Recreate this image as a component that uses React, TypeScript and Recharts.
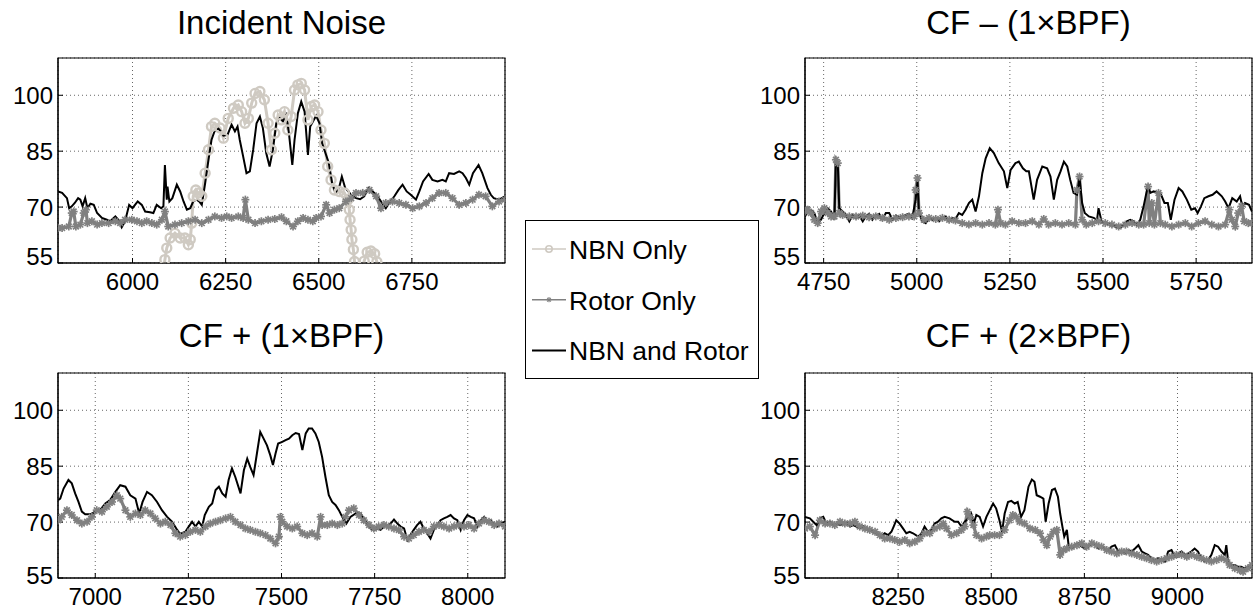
import React from 'react';
import { LineChart, Line, XAxis, YAxis, CartesianGrid, ReferenceArea } from 'recharts';

const FONT = '"Liberation Sans", Arial, Helvetica, sans-serif';

const titles = ['Incident Noise', 'CF \u2013 (1\u00d7BPF)', 'CF + (1\u00d7BPF)', 'CF + (2\u00d7BPF)'];
const legendLabels = ['NBN Only', 'Rotor Only', 'NBN and Rotor'];
const yDomain: [number, number] = [55, 110];
const yTicks = [55, 70, 85, 100];

const incidentDomain: [number, number] = [5800, 7000];
const incidentTicks = [6000, 6250, 6500, 6750];
const minus1Domain: [number, number] = [4700, 5900];
const minus1Ticks = [4750, 5000, 5250, 5500, 5750];
const plus1Domain: [number, number] = [6900, 8100];
const plus1Ticks = [7000, 7250, 7500, 7750, 8000];
const plus2Domain: [number, number] = [8000, 9200];
const plus2Ticks = [8250, 8500, 8750, 9000];

type P = [number, number];

const incidentNbn: P[] = [
  [6078, 50], [6087, 55.9], [6092, 59.0], [6101, 61.7], [6114, 63.0], [6128, 61.7], [6141, 61.7], [6150, 59.9],
  [6155, 61.3], [6159, 65.7], [6163, 72.9], [6170, 74.6], [6177, 73.8], [6186, 72.9], [6195, 79.1], [6204, 85.4],
  [6212, 91.6], [6221, 92.5], [6235, 91.2], [6244, 88.5], [6257, 93.8], [6271, 96.5], [6284, 97.4], [6293, 95.6],
  [6302, 92.5], [6311, 93.8], [6320, 97.9], [6329, 100.5], [6342, 101.0], [6354, 98.8], [6364, 92.5], [6373, 85.4],
  [6382, 89.8], [6391, 94.7], [6400, 93.4], [6408, 95.6], [6417, 90.7], [6426, 94.3], [6435, 101.4], [6444, 102.8],
  [6453, 103.2], [6462, 101.4], [6471, 93.4], [6480, 97.0], [6489, 97.4], [6498, 95.6], [6506, 90.7], [6515, 87.1],
  [6524, 80.9], [6533, 77.3], [6542, 74.6], [6555, 74.2], [6569, 73.8], [6578, 72.0], [6582, 69.3], [6584, 66.6],
  [6587, 63.9], [6589, 61.3], [6593, 58.6], [6596, 55.4], [6602, 50], [6614, 50], [6622, 55.5], [6630, 57.9],
  [6640, 58.2], [6650, 57.5], [6656, 55.3], [6666, 50],
];

const incidentRotor: P[] = [
  [5800, 64.4], [5811, 64.4], [5829, 64.8], [5837, 68.4], [5842, 68.8], [5848, 64.8], [5860, 65.3], [5869, 68.4],
  [5875, 69.3], [5879, 65.7], [5891, 66.2], [5905, 65.3], [5918, 65.7], [5936, 65.7], [5954, 66.2], [5967, 65.7],
  [5980, 66.6], [5998, 66.6], [6012, 66.2], [6025, 65.7], [6038, 66.2], [6052, 65.7], [6065, 65.3], [6079, 66.6],
  [6087, 68.8], [6096, 64.8], [6114, 65.3], [6132, 65.7], [6150, 66.2], [6168, 66.6], [6186, 65.7], [6204, 66.6],
  [6221, 67.5], [6239, 67.1], [6253, 67.5], [6266, 67.1], [6284, 67.5], [6297, 67.1], [6303, 72.0], [6311, 66.6],
  [6329, 65.7], [6346, 66.2], [6364, 66.6], [6382, 66.8], [6400, 67.3], [6413, 66.2], [6431, 64.8], [6444, 66.2],
  [6458, 67.1], [6471, 66.6], [6484, 66.2], [6493, 67.1], [6506, 67.5], [6520, 70.6], [6529, 68.4], [6542, 69.3],
  [6555, 69.7], [6573, 71.5], [6587, 72.4], [6600, 73.8], [6618, 73.8], [6636, 74.6], [6654, 72.9], [6667, 69.7],
  [6680, 71.1], [6698, 71.5], [6716, 71.1], [6734, 70.6], [6752, 69.7], [6770, 70.2], [6788, 71.1], [6805, 72.4],
  [6823, 73.8], [6841, 73.8], [6859, 72.4], [6877, 70.6], [6895, 71.1], [6913, 72.0], [6930, 73.3], [6948, 72.9],
  [6966, 70.2], [6984, 71.5], [7000, 72.0],
];

const incidentBoth: P[] = [
  [5800, 74.2], [5811, 73.8], [5824, 72.4], [5830, 69.7], [5837, 70.2], [5845, 71.1], [5854, 72.4], [5860, 72.0],
  [5866, 70.2], [5873, 72.4], [5879, 69.7], [5887, 70.9], [5896, 70.6], [5905, 68.4], [5918, 67.1], [5931, 66.6],
  [5940, 66.2], [5954, 67.5], [5962, 66.6], [5971, 64.6], [5980, 66.2], [5991, 70.6], [6000, 69.7], [6014, 71.5],
  [6025, 70.6], [6034, 68.8], [6047, 68.6], [6056, 68.4], [6065, 70.6], [6077, 69.7], [6083, 70.2], [6087, 81.3],
  [6092, 72.0], [6094, 75.5], [6099, 71.5], [6107, 72.4], [6119, 76.0], [6128, 74.2], [6137, 71.5], [6146, 69.3],
  [6155, 69.7], [6163, 71.5], [6172, 72.0], [6179, 71.5], [6186, 70.6], [6195, 76.4], [6204, 82.7], [6212, 88.0],
  [6220, 90.3], [6229, 91.2], [6237, 90.3], [6244, 89.2], [6255, 89.4], [6266, 92.1], [6275, 90.3], [6282, 91.6],
  [6288, 88.0], [6297, 83.6], [6306, 79.1], [6315, 79.6], [6324, 85.4], [6333, 92.5], [6342, 94.3], [6350, 91.2],
  [6359, 84.5], [6368, 80.9], [6377, 85.4], [6386, 92.5], [6395, 94.0], [6404, 93.0], [6413, 94.7], [6420, 89.8],
  [6429, 81.3], [6435, 88.0], [6444, 95.2], [6453, 98.3], [6462, 95.6], [6471, 84.0], [6477, 91.6], [6484, 92.9],
  [6493, 94.5], [6502, 92.5], [6509, 87.1], [6518, 84.5], [6527, 81.8], [6536, 76.4], [6545, 73.8], [6553, 74.6],
  [6562, 78.2], [6571, 75.1], [6580, 74.2], [6589, 72.9], [6600, 72.4], [6611, 72.1], [6622, 72.9], [6634, 75.1],
  [6645, 74.2], [6658, 72.9], [6670, 71.1], [6680, 69.7], [6689, 71.1], [6703, 72.9], [6714, 74.6], [6725, 76.0],
  [6736, 74.2], [6747, 73.3], [6761, 72.0], [6770, 74.2], [6780, 76.9], [6795, 78.9], [6805, 77.3], [6819, 76.9],
  [6832, 77.3], [6841, 76.9], [6850, 79.1], [6863, 78.9], [6877, 79.6], [6886, 79.1], [6895, 77.8], [6904, 76.0],
  [6914, 79.1], [6929, 81.3], [6939, 79.1], [6953, 75.1], [6962, 73.3], [6970, 72.4], [6984, 72.0], [7000, 72.9],
];

const minus1Rotor: P[] = [
  [4700, 68.8], [4707, 69.3], [4716, 68.4], [4725, 66.6], [4734, 65.7], [4743, 68.8], [4752, 69.7], [4761, 68.4],
  [4770, 67.5], [4779, 67.5], [4783, 82.7], [4788, 81.8], [4792, 68.4], [4801, 67.9], [4819, 67.5], [4837, 67.5],
  [4855, 67.7], [4872, 67.3], [4890, 67.5], [4908, 67.1], [4926, 66.6], [4944, 67.1], [4962, 67.3], [4979, 67.5],
  [4993, 67.5], [4997, 74.6], [5002, 77.8], [5006, 68.4], [5019, 66.6], [5033, 67.1], [5051, 66.8], [5069, 67.1],
  [5087, 66.6], [5104, 66.4], [5122, 65.7], [5140, 65.3], [5158, 65.7], [5176, 65.3], [5194, 65.7], [5211, 65.3],
  [5218, 69.3], [5225, 65.7], [5238, 65.3], [5256, 66.2], [5274, 65.7], [5292, 65.7], [5310, 66.2], [5328, 65.3],
  [5341, 66.8], [5354, 65.3], [5372, 65.7], [5390, 65.3], [5408, 65.7], [5426, 65.3], [5430, 74.6], [5437, 78.2],
  [5444, 66.6], [5455, 65.3], [5471, 65.7], [5488, 66.2], [5506, 65.7], [5524, 65.3], [5542, 64.8], [5560, 65.3],
  [5578, 65.7], [5596, 65.3], [5609, 65.3], [5621, 75.5], [5624, 65.7], [5631, 71.1], [5638, 65.3], [5649, 73.8],
  [5654, 65.7], [5667, 65.3], [5685, 64.8], [5703, 65.3], [5721, 65.7], [5738, 64.8], [5756, 65.7], [5774, 66.2],
  [5792, 65.3], [5810, 64.8], [5828, 65.3], [5839, 69.3], [5846, 66.6], [5855, 64.8], [5863, 68.4], [5872, 70.2],
  [5879, 66.2], [5890, 65.7], [5900, 65.7],
];

const minus1Both: P[] = [
  [4700, 67.5], [4707, 68.8], [4716, 69.3], [4725, 68.4], [4734, 65.7], [4743, 66.6], [4752, 68.4], [4761, 69.7],
  [4770, 68.8], [4779, 66.6], [4783, 83.1], [4788, 81.8], [4792, 69.7], [4801, 68.8], [4810, 67.9], [4819, 66.2],
  [4828, 67.9], [4837, 67.1], [4846, 67.7], [4855, 66.2], [4863, 67.5], [4872, 68.2], [4881, 66.6], [4890, 67.7],
  [4899, 68.2], [4908, 66.6], [4917, 68.4], [4926, 68.4], [4935, 66.6], [4944, 67.7], [4953, 67.1], [4962, 67.5],
  [4970, 67.9], [4979, 68.2], [4988, 67.1], [4997, 72.0], [5002, 76.9], [5006, 68.4], [5015, 66.2], [5024, 65.7],
  [5033, 67.1], [5042, 66.6], [5051, 67.1], [5060, 66.2], [5069, 67.1], [5078, 67.5], [5087, 66.2], [5096, 67.1],
  [5104, 66.8], [5113, 68.4], [5122, 67.9], [5131, 69.3], [5140, 71.1], [5149, 72.0], [5158, 68.8], [5167, 72.9],
  [5176, 79.1], [5185, 83.1], [5196, 85.8], [5207, 84.5], [5220, 81.8], [5234, 79.6], [5243, 75.1], [5252, 80.0],
  [5265, 81.8], [5274, 82.2], [5285, 80.4], [5294, 79.6], [5301, 79.6], [5314, 72.0], [5323, 77.3], [5337, 80.9],
  [5350, 80.4], [5359, 78.2], [5368, 72.0], [5377, 77.3], [5386, 79.6], [5395, 82.2], [5404, 80.9], [5412, 77.3],
  [5421, 73.8], [5430, 73.3], [5437, 77.8], [5444, 71.1], [5451, 68.4], [5462, 67.5], [5475, 67.1], [5484, 66.6],
  [5488, 69.7], [5496, 66.2], [5506, 65.7], [5520, 65.3], [5533, 64.8], [5546, 64.4], [5555, 65.3], [5564, 66.2],
  [5573, 66.6], [5582, 66.2], [5591, 65.3], [5600, 66.6], [5609, 70.2], [5621, 76.0], [5627, 73.8], [5636, 74.2],
  [5647, 73.8], [5656, 73.3], [5665, 71.1], [5674, 71.1], [5682, 66.6], [5692, 72.0], [5703, 75.1], [5713, 74.2],
  [5725, 72.0], [5737, 69.3], [5747, 69.7], [5754, 68.4], [5763, 70.2], [5772, 72.4], [5783, 72.9], [5794, 73.3],
  [5805, 74.2], [5819, 72.9], [5828, 71.5], [5837, 69.7], [5847, 72.4], [5859, 71.5], [5868, 72.9], [5874, 70.2],
  [5881, 71.1], [5892, 70.6], [5900, 68.8],
];

const plus1Rotor: P[] = [
  [6900, 70.5], [6910, 71.4], [6924, 73.2], [6937, 71.9], [6951, 70.5], [6964, 69.6], [6978, 70.1], [6991, 71.4],
  [7004, 73.2], [7018, 72.8], [7031, 74.1], [7045, 75.4], [7058, 77.2], [7067, 76.3], [7081, 73.2], [7094, 71.4],
  [7108, 72.3], [7121, 71.9], [7134, 73.2], [7148, 72.3], [7161, 71.0], [7175, 69.6], [7188, 70.1], [7202, 69.2],
  [7215, 67.0], [7228, 66.1], [7242, 66.5], [7255, 67.4], [7269, 67.9], [7282, 67.4], [7296, 68.8], [7309, 69.6],
  [7323, 70.1], [7336, 70.5], [7350, 71.0], [7363, 71.4], [7376, 70.1], [7390, 69.2], [7403, 68.3], [7416, 67.9],
  [7430, 67.4], [7443, 67.0], [7457, 66.5], [7470, 65.6], [7484, 64.3], [7493, 66.1], [7497, 71.4], [7502, 70.1],
  [7515, 68.8], [7529, 68.3], [7542, 68.8], [7556, 67.0], [7569, 66.5], [7582, 67.0], [7596, 66.1], [7605, 71.4],
  [7609, 69.2], [7623, 69.2], [7636, 69.6], [7650, 69.2], [7663, 69.6], [7672, 71.4], [7681, 73.2], [7694, 73.7],
  [7708, 71.9], [7721, 70.5], [7735, 69.2], [7748, 68.3], [7761, 68.8], [7775, 69.2], [7788, 68.8], [7802, 68.3],
  [7815, 67.9], [7829, 66.1], [7842, 65.6], [7855, 66.5], [7869, 67.4], [7882, 67.9], [7896, 67.4], [7909, 68.8],
  [7923, 69.2], [7936, 68.8], [7950, 68.3], [7963, 68.8], [7976, 69.2], [7990, 68.8], [8003, 69.2], [8017, 68.3],
  [8030, 69.6], [8044, 70.5], [8057, 70.1], [8071, 69.2], [8084, 69.6], [8100, 68.8],
];

const plus1Both: P[] = [
  [6900, 75.9], [6906, 76.3], [6915, 79.0], [6928, 81.3], [6937, 80.4], [6946, 77.7], [6955, 75.4], [6964, 72.8],
  [6973, 72.1], [6987, 72.1], [7000, 72.8], [7013, 73.2], [7027, 75.0], [7040, 75.9], [7054, 78.1], [7067, 79.9],
  [7081, 79.5], [7094, 77.2], [7108, 76.3], [7118, 72.3], [7127, 75.4], [7139, 78.1], [7152, 77.2], [7166, 75.4],
  [7179, 73.2], [7193, 71.4], [7206, 70.1], [7220, 67.9], [7228, 66.8], [7242, 67.4], [7251, 68.8], [7260, 70.1],
  [7269, 68.8], [7278, 70.1], [7287, 68.8], [7294, 71.9], [7305, 74.1], [7314, 75.0], [7323, 78.6], [7332, 79.5],
  [7341, 77.7], [7350, 76.8], [7358, 81.3], [7367, 84.4], [7376, 82.1], [7390, 77.7], [7399, 83.9], [7408, 87.0],
  [7416, 84.8], [7425, 82.6], [7434, 88.4], [7443, 94.2], [7452, 92.4], [7461, 90.6], [7470, 87.9], [7477, 85.3],
  [7484, 88.4], [7491, 91.1], [7502, 91.5], [7511, 92.0], [7520, 92.4], [7529, 93.3], [7538, 93.9], [7547, 93.6],
  [7556, 89.3], [7565, 93.8], [7573, 95.1], [7582, 95.1], [7591, 93.8], [7600, 91.5], [7609, 87.5], [7618, 82.1],
  [7627, 77.2], [7636, 75.4], [7645, 74.6], [7654, 73.2], [7663, 71.4], [7674, 69.6], [7685, 71.4], [7699, 72.3],
  [7712, 72.3], [7721, 71.0], [7730, 69.6], [7739, 68.3], [7748, 67.9], [7757, 68.3], [7766, 67.9], [7775, 68.8],
  [7784, 69.2], [7793, 69.6], [7802, 70.7], [7811, 69.6], [7820, 68.8], [7829, 68.3], [7838, 65.2], [7846, 66.5],
  [7855, 67.9], [7864, 69.2], [7873, 70.1], [7882, 68.3], [7891, 67.0], [7900, 65.6], [7909, 67.9], [7918, 69.2],
  [7927, 70.5], [7936, 71.0], [7945, 71.4], [7954, 71.9], [7963, 71.0], [7972, 70.5], [7981, 67.9], [7990, 70.5],
  [7999, 71.9], [8008, 71.4], [8017, 71.0], [8026, 68.8], [8035, 70.5], [8044, 71.4], [8053, 70.1], [8062, 70.5],
  [8071, 69.2], [8080, 68.8], [8088, 69.6], [8100, 70.1],
];

const plus2Rotor: P[] = [
  [8000, 68.3], [8013, 68.8], [8027, 66.5], [8040, 70.5], [8054, 69.6], [8067, 69.6], [8080, 69.2], [8094, 70.1],
  [8107, 69.6], [8121, 69.6], [8134, 70.1], [8147, 68.8], [8161, 68.3], [8174, 67.9], [8188, 67.4], [8201, 66.5],
  [8214, 65.6], [8228, 65.6], [8241, 65.2], [8254, 64.7], [8268, 65.2], [8281, 64.3], [8295, 64.7], [8308, 65.6],
  [8321, 67.0], [8335, 67.0], [8348, 68.3], [8362, 68.8], [8371, 69.6], [8380, 68.3], [8393, 66.5], [8407, 67.0],
  [8420, 67.9], [8429, 68.8], [8436, 72.8], [8443, 71.4], [8452, 69.2], [8460, 66.5], [8474, 65.6], [8487, 66.1],
  [8496, 66.5], [8509, 66.5], [8522, 66.5], [8536, 67.9], [8549, 70.5], [8558, 71.9], [8567, 71.4], [8576, 70.1],
  [8589, 69.6], [8604, 68.3], [8618, 67.9], [8631, 67.0], [8640, 65.2], [8649, 63.8], [8658, 66.1], [8667, 67.4],
  [8676, 67.9], [8685, 61.2], [8694, 62.5], [8703, 62.9], [8716, 63.4], [8730, 63.8], [8743, 64.3], [8756, 63.4],
  [8770, 64.3], [8783, 63.8], [8796, 63.4], [8810, 62.5], [8823, 62.1], [8837, 61.6], [8850, 62.1], [8863, 62.1],
  [8877, 61.6], [8891, 61.2], [8904, 60.7], [8917, 60.3], [8930, 59.8], [8944, 59.4], [8957, 59.8], [8971, 60.3],
  [8984, 60.7], [8997, 61.2], [9011, 61.2], [9025, 60.7], [9038, 61.2], [9052, 60.7], [9064, 60.3], [9078, 59.8],
  [9091, 59.4], [9105, 59.8], [9118, 60.3], [9131, 59.8], [9140, 58.5], [9154, 57.6], [9167, 57.1], [9176, 56.7],
  [9189, 57.6], [9200, 58.5],
];

const plus2Both: P[] = [
  [8000, 71.4], [8013, 71.0], [8022, 70.1], [8031, 69.2], [8040, 71.0], [8049, 71.4], [8058, 69.6], [8067, 70.1],
  [8076, 69.2], [8085, 69.6], [8094, 69.2], [8103, 69.6], [8112, 69.8], [8121, 68.8], [8129, 69.2], [8138, 68.8],
  [8147, 68.3], [8156, 68.9], [8165, 67.9], [8174, 68.0], [8183, 67.4], [8192, 67.0], [8205, 66.1], [8214, 67.0],
  [8223, 66.5], [8232, 67.4], [8238, 68.8], [8245, 70.5], [8254, 69.6], [8263, 68.3], [8272, 67.0], [8281, 67.4],
  [8290, 67.0], [8304, 66.1], [8313, 67.0], [8321, 68.8], [8330, 67.4], [8339, 67.9], [8348, 69.6], [8357, 70.1],
  [8366, 71.0], [8375, 71.4], [8388, 71.0], [8402, 70.1], [8411, 70.1], [8420, 68.8], [8429, 70.1], [8438, 71.0],
  [8446, 72.3], [8453, 69.6], [8460, 71.9], [8469, 71.4], [8478, 68.8], [8487, 71.4], [8496, 73.2], [8505, 75.0],
  [8513, 73.7], [8522, 70.5], [8529, 67.4], [8536, 72.3], [8545, 75.4], [8554, 75.7], [8563, 75.0], [8571, 75.4],
  [8580, 71.4], [8589, 73.2], [8600, 79.5], [8609, 81.4], [8616, 80.8], [8622, 77.2], [8631, 76.8], [8640, 76.3],
  [8646, 70.1], [8654, 75.0], [8663, 78.6], [8671, 79.0], [8679, 76.8], [8685, 72.3], [8691, 68.8], [8696, 66.1],
  [8703, 67.9], [8708, 63.4], [8716, 62.9], [8725, 63.8], [8734, 64.3], [8743, 63.4], [8752, 62.9], [8761, 63.4],
  [8770, 64.3], [8779, 63.8], [8788, 62.9], [8796, 63.4], [8805, 62.9], [8814, 62.5], [8823, 63.4], [8832, 63.8],
  [8841, 62.1], [8850, 62.1], [8859, 61.6], [8868, 62.5], [8877, 62.1], [8886, 62.9], [8895, 63.8], [8904, 62.1],
  [8913, 61.6], [8921, 61.2], [8930, 60.3], [8939, 59.8], [8948, 60.3], [8957, 59.8], [8966, 59.4], [8975, 62.1],
  [8984, 62.5], [8993, 60.7], [9002, 61.6], [9011, 62.1], [9020, 61.2], [9029, 61.6], [9037, 62.1], [9046, 62.9],
  [9055, 62.1], [9064, 60.3], [9073, 59.4], [9082, 59.8], [9091, 61.2], [9100, 63.8], [9109, 63.4], [9118, 62.1],
  [9127, 61.2], [9131, 63.8], [9136, 59.4], [9145, 58.5], [9154, 58.5], [9163, 58.0], [9171, 58.0], [9180, 57.6],
  [9189, 58.0], [9200, 57.9],
];

const NBN_COLOR = '#cfcac2';
const ROTOR_COLOR = '#808080';
const BOTH_COLOR = '#000000';

const CHART_W = 501;
const CHART_H = 245;

function Asterisk({ cx, cy, s = 4, w = 1.7 }: { cx: number; cy: number; s?: number; w?: number }) {
  const d = s * 0.72;
  return (
    <g stroke={ROTOR_COLOR} strokeWidth={w}>
      <line x1={cx - s} y1={cy} x2={cx + s} y2={cy} />
      <line x1={cx} y1={cy - s} x2={cx} y2={cy + s} />
      <line x1={cx - d} y1={cy - d} x2={cx + d} y2={cy + d} />
      <line x1={cx - d} y1={cy + d} x2={cx + d} y2={cy - d} />
    </g>
  );
}

function Ring({ cx, cy, r = 4.5, w = 2.4 }: { cx: number; cy: number; r?: number; w?: number }) {
  return <circle cx={cx} cy={cy} r={r} fill="none" stroke={NBN_COLOR} strokeWidth={w} />;
}

const toPts = (a: P[]) => a.map(([x, y]) => ({ x, y }));

function YTick(props: any) {
  const { x, y, payload, liftBottom } = props;
  const dy = payload.value === 55 ? -liftBottom : 0;
  return (
    <text x={x} y={y + dy} dy="0.36em" textAnchor="end" fontSize={24} fontFamily={FONT} fill="#000">
      {payload.value}
    </text>
  );
}

function XTick(props: any) {
  const { x, y, payload } = props;
  return (
    <text x={x} y={y} dy="0.72em" textAnchor="middle" fontSize={24} fontFamily={FONT} fill="#000">
      {payload.value}
    </text>
  );
}

type PanelProps = {
  domain: [number, number];
  ticks: number[];
  nbn?: P[];
  rotor: P[];
  both: P[];
  left: number;
  top: number;
  liftBottom: number;
};

function Panel({ domain, ticks, nbn, rotor, both, left, top, liftBottom }: PanelProps) {
  return (
    <div style={{ position: 'absolute', left, top, width: CHART_W, height: CHART_H }}>
      <LineChart width={CHART_W} height={CHART_H} margin={{ top: 5, right: 4, bottom: 0, left: 0 }}>
        <CartesianGrid stroke="#000" strokeOpacity={0.6} strokeDasharray="1 3" />
        <XAxis
          type="number"
          dataKey="x"
          domain={domain}
          ticks={ticks}
          interval={0}
          allowDataOverflow
          height={35}
          tickSize={-5}
          tickMargin={15}
          stroke="#000"
          tick={<XTick />}
        />
        <YAxis
          type="number"
          domain={yDomain}
          ticks={yTicks}
          interval={0}
          allowDataOverflow
          width={50}
          tickSize={-5}
          tickMargin={10}
          stroke="#000"
          tick={<YTick liftBottom={liftBottom} />}
        />
        {nbn ? (
          <Line
            data={toPts(nbn)}
            dataKey="y"
            type="linear"
            stroke={NBN_COLOR}
            strokeWidth={3}
            dot={(p: any) => <Ring key={`n${p.index}`} cx={p.cx} cy={p.cy} />}
            activeDot={false}
            isAnimationActive={false}
          />
        ) : null}
        <Line
          data={toPts(rotor)}
          dataKey="y"
          type="linear"
          stroke={ROTOR_COLOR}
          strokeWidth={3.2}
          dot={(p: any) => <Asterisk key={`r${p.index}`} cx={p.cx} cy={p.cy} />}
          activeDot={false}
          isAnimationActive={false}
        />
        <Line
          data={toPts(both)}
          dataKey="y"
          type="linear"
          stroke={BOTH_COLOR}
          strokeWidth={2}
          dot={false}
          activeDot={false}
          isAnimationActive={false}
        />
        <ReferenceArea
          x1={domain[0]}
          x2={domain[1]}
          y1={yDomain[0]}
          y2={yDomain[1]}
          fill="none"
          fillOpacity={0}
          stroke="#000"
          strokeWidth={1.2}
          ifOverflow="visible"
        />
      </LineChart>
    </div>
  );
}

function LegendBox() {
  const rows = [
    { label: legendLabels[0], color: NBN_COLOR, marker: 'ring' },
    { label: legendLabels[1], color: ROTOR_COLOR, marker: 'star' },
    { label: legendLabels[2], color: BOTH_COLOR, marker: 'none' },
  ];
  return (
    <div
      style={{
        position: 'absolute',
        left: 525,
        top: 220,
        width: 232,
        height: 157,
        border: '1px solid #000',
        background: '#fff',
      }}
    >
      <svg width={232} height={157} style={{ display: 'block' }}>
        {rows.map((r, i) => {
          const cy = 28 + i * 50.7;
          return (
            <g key={r.label}>
              <line x1={6} y1={cy} x2={40} y2={cy} stroke={r.color} strokeWidth={r.marker === 'none' ? 2 : 1.6} />
              {r.marker === 'ring' ? <Ring cx={23} cy={cy} r={3.2} w={1.6} /> : null}
              {r.marker === 'star' ? <Asterisk cx={23} cy={cy} s={2.6} w={1.1} /> : null}
              <text x={43} y={cy + 10} fontSize={26.5} fontFamily={FONT} fill="#000">
                {r.label}
              </text>
            </g>
          );
        })}
      </svg>
    </div>
  );
}

export default function App() {
  const panels: PanelProps[] = [
    { domain: incidentDomain, ticks: incidentTicks, nbn: incidentNbn, rotor: incidentRotor, both: incidentBoth, left: 8, top: 53, liftBottom: 7 },
    { domain: minus1Domain, ticks: minus1Ticks, rotor: minus1Rotor, both: minus1Both, left: 755, top: 53, liftBottom: 7 },
    { domain: plus1Domain, ticks: plus1Ticks, rotor: plus1Rotor, both: plus1Both, left: 8, top: 368, liftBottom: 3 },
    { domain: plus2Domain, ticks: plus2Ticks, rotor: plus2Rotor, both: plus2Both, left: 755, top: 368, liftBottom: 3 },
  ];
  const titlePos = [
    { x: 281.5, y: 34 },
    { x: 1028.5, y: 34 },
    { x: 281.5, y: 347 },
    { x: 1028.5, y: 347 },
  ];
  return (
    <div style={{ position: 'absolute', left: 0, top: 0, width: 1256, height: 613, background: '#fff', overflow: 'hidden' }}>
      <svg width={1256} height={613} style={{ position: 'absolute', left: 0, top: 0 }}>
        {titles.map((t, i) => (
          <text key={t} x={titlePos[i].x} y={titlePos[i].y} textAnchor="middle" fontSize={33} fontFamily={FONT} fill="#000">
            {t}
          </text>
        ))}
      </svg>
      {panels.map((p, i) => (
        <Panel key={i} {...p} />
      ))}
      <LegendBox />
    </div>
  );
}
